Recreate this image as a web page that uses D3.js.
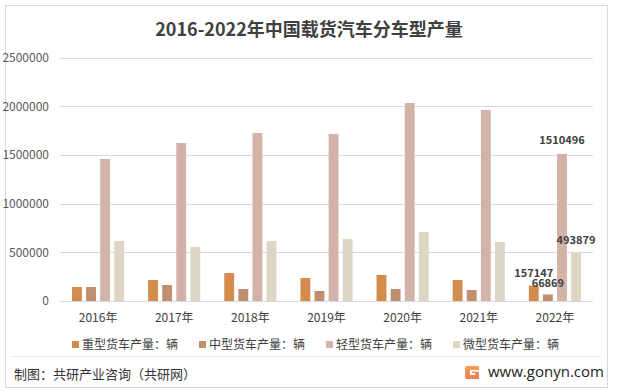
<!DOCTYPE html>
<html><head><meta charset="utf-8">
<script src="https://cdn.jsdelivr.net/npm/d3@7"></script>
<style>
html,body{margin:0;padding:0;background:#fff;}
svg{display:block;font-family:"Noto Sans CJK SC","Noto Sans",sans-serif;}
</style></head>
<body>
<script>
const years = ["2016年","2017年","2018年","2019年","2020年","2021年","2022年"];
const seriesNames = ["重型货车产量：辆","中型货车产量：辆","轻型货车产量：辆","微型货车产量：辆"];
const seriesColors = ["#D38B4E","#BF8F6F","#D3B3A8","#DED6C4"];
const heavy  = [144000, 216000, 287000, 236000, 267000, 216000, 157147];
const medium = [144000, 164000, 123000, 103000, 123000, 113000, 66869];
const light  = [1458000, 1622000, 1725000, 1715000, 2033000, 1961000, 1510496];
const micro  = [616000, 554000, 616000, 637000, 708000, 606000, 493879];
const yTicks = [0, 500000, 1000000, 1500000, 2000000, 2500000];
const labeledIndex = 6;

const W = 617, H = 392;
const svg = d3.select("body").append("svg").attr("width", W).attr("height", H);

// outer border
svg.append("rect").attr("x",5.5).attr("y",5.5).attr("width",602).attr("height",382)
  .attr("fill","#fff").attr("stroke","#d9d9d9");

// title
svg.append("text").attr("x",309).attr("y",36).attr("text-anchor","middle")
  .attr("font-size",18).attr("font-weight","bold").attr("fill","#404040")
  .text("2016-2022年中国载货汽车分车型产量");

const x0 = d3.scaleBand().domain(years).range([60,593]).paddingInner(0).paddingOuter(0);
const x1 = d3.scaleBand().domain(d3.range(4)).range([0,x0.bandwidth()]).paddingInner(0.3).paddingOuter(0.85);
const y = d3.scaleLinear().domain([0,2500000]).range([301,57.5]);

// gridlines
svg.append("g").selectAll("line").data(yTicks).join("line")
  .attr("x1",60).attr("x2",593).attr("y1",d=>Math.round(y(d))+0.5).attr("y2",d=>Math.round(y(d))+0.5)
  .attr("stroke","#d9d9d9").attr("stroke-width",1);

// y axis labels
const yAxis = d3.axisLeft(y).tickValues(yTicks).tickSize(0).tickPadding(0).tickFormat(d3.format("d"));
const ya = svg.append("g").attr("transform","translate(49,0)").call(yAxis);
ya.select(".domain").remove();
ya.selectAll("text").attr("font-size",12).attr("fill","#595959").attr("font-family","'Noto Sans CJK SC',sans-serif");

// x axis labels
const xAxis = d3.axisBottom(x0).tickSize(0).tickPadding(0);
const xa = svg.append("g").attr("transform","translate(0,313)").call(xAxis);
xa.select(".domain").remove();
xa.selectAll("text").attr("font-size",12).attr("fill","#404040").attr("font-family","'Noto Sans CJK SC',sans-serif");

const allSeries = [heavy, medium, light, micro];
const groups = svg.append("g").selectAll("g").data(years).join("g")
  .attr("transform",d=>`translate(${x0(d)},0)`);
groups.selectAll("rect").data((d,i)=>allSeries.map((s,k)=>({k, v:s[i], i})))
  .join("rect")
  .attr("x",d=>x1(d.k)).attr("width",x1.bandwidth())
  .attr("y",d=>y(d.v)).attr("height",d=>y(0)-y(d.v))
  .attr("fill",d=>seriesColors[d.k]);

// data labels for last year
const labelOffsets = [9, 7.5, 10, 9];
const lab = svg.append("g");
allSeries.forEach((s,k)=>{
  lab.append("text")
    .attr("x", x0(years[labeledIndex]) + x1(k) + x1.bandwidth()/2)
    .attr("y", y(s[labeledIndex]) - labelOffsets[k]).attr("text-anchor","middle")
    .attr("font-size",11).attr("font-weight",600).attr("fill","#404040")
    .text(s[labeledIndex]);
});

// legend
const legendX = [72,199,326,453];
const lg = svg.append("g");
seriesNames.forEach((n,k)=>{
  lg.append("rect").attr("x",legendX[k]).attr("y",341).attr("width",7).attr("height",7).attr("fill",seriesColors[k]);
  lg.append("text").attr("x",legendX[k]+10).attr("y",349).attr("font-size",12).attr("fill","#404040").text(n);
});

// separator
svg.append("line").attr("x1",12).attr("x2",601).attr("y1",356.5).attr("y2",356.5).attr("stroke","#e6e6e6");

// footer
svg.append("text").attr("x",14).attr("y",379).attr("font-size",13).attr("fill","#333").text("制图：共研产业咨询（共研网）");
// logo
const logo = svg.append("g").attr("transform","translate(465,366)");
const lgGrad = svg.append("defs").append("linearGradient").attr("id","lgG").attr("x1",0).attr("y1",0).attr("x2",0).attr("y2",1);
lgGrad.append("stop").attr("offset","0%").attr("stop-color","#F7A15A");
lgGrad.append("stop").attr("offset","100%").attr("stop-color","#F07B57");
logo.append("path").attr("d","M0,2 Q0,0 2,0 L14,0 L14,4 L5,4 L5,9 L10,9 L10,7 L7,7 L7,5.5 L14,5.5 L14,13 L2,13 Q0,13 0,11 Z")
  .attr("fill","url(#lgG)");
svg.append("text").attr("x",488).attr("y",377).attr("font-size",15).attr("fill","#222")
  .attr("font-family","'Open Sans','DejaVu Sans',sans-serif").text("www.gonyn.com");
</script>
</body></html>
